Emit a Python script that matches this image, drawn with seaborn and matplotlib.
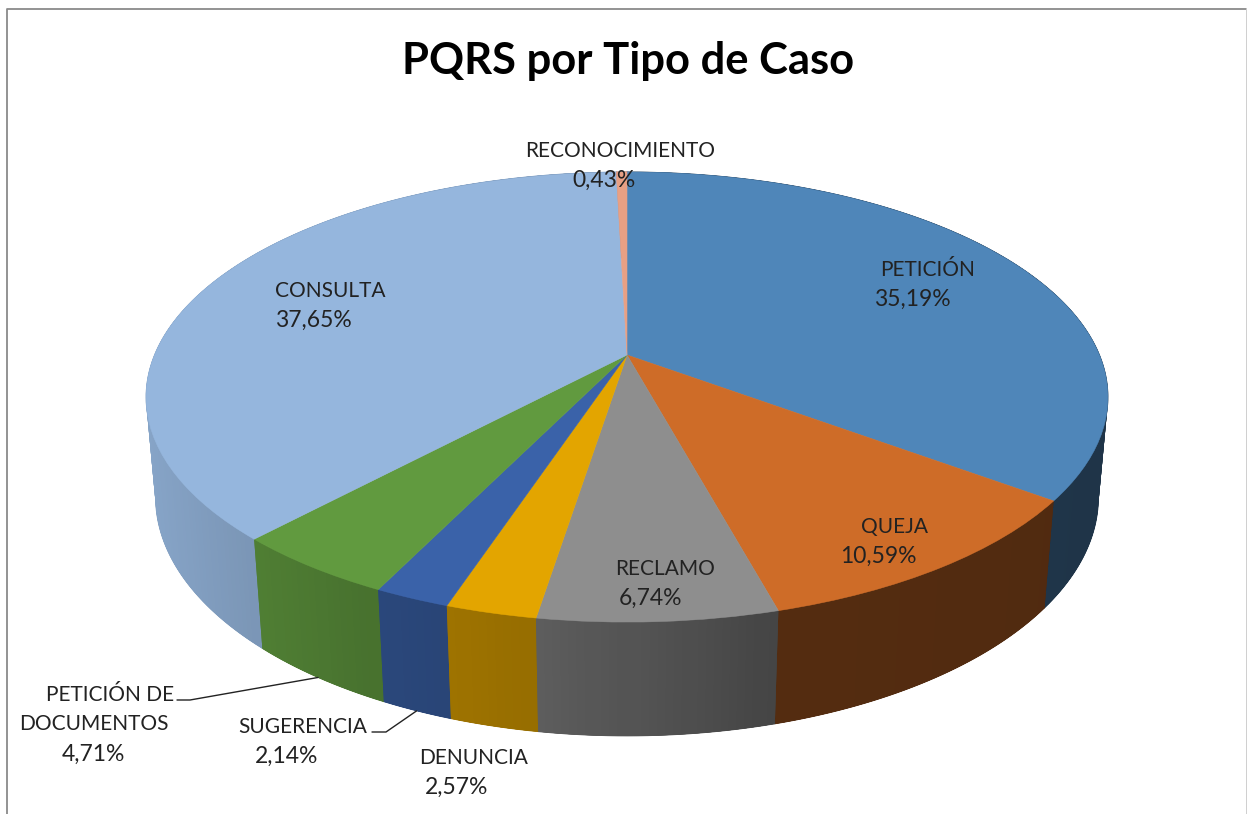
import numpy as np
import matplotlib
matplotlib.use('Agg')
import matplotlib.pyplot as plt
import seaborn as sns
from matplotlib.collections import PolyCollection
from matplotlib.colors import to_rgb
from matplotlib.transforms import Transform

categories = ['PETICIÓN', 'QUEJA', 'RECLAMO', 'DENUNCIA', 'SUGERENCIA',
              'PETICIÓN DE\nDOCUMENTOS', 'CONSULTA', 'RECONOCIMIENTO']
values = [35.19, 10.59, 6.74, 2.57, 2.14, 4.71, 37.65, 0.43]
title = 'PQRS por Tipo de Caso'

colors = ['#4F86B9', '#CE6C28', '#8E8E8E', '#E3A500', '#3A62A9', '#619A3F', '#95B6DD', '#E8A084']

# label anchors, pixel-like: (x of name, x of percent, y of first line)
label_pos = [(928, 912, 270), (894, 878, 527), (665, 650, 569), (474, 457, 758),
             (303, 287, 727), (104, 93, 695), (330, 313, 291), (620, 604, 151)]

CX, CY = 627, 355
A, B, C = 472.5, 217.2, -0.1867
DEPTH, SINK = 100, 0.0194


def project(x, y, low=False):
    # disc seen in perspective, y is up in the pie's coordinates
    v = -np.asarray(y)
    w = 1 + C * v + (SINK if low else 0)
    return CX + A * np.asarray(x) / w, CY + (B * v + (DEPTH if low else 0)) / w


class Perspective(Transform):
    input_dims = output_dims = 2
    is_separable = False
    has_inverse = False

    def transform_non_affine(self, values):
        px, py = project(values[:, 0], values[:, 1])
        return np.column_stack([px, py])


def wall_shade(x):
    return np.interp(x, [150, 260, 385, 540, 772, 782, 1100],
                     [.90, .82, .73, .66, .48, .41, .39])


def wall_quad(t0, t1):
    # quad of the side wall between two angles, as a band of top and lower rim points
    ts = np.radians(np.linspace(t0, t1, max(int(abs(t1 - t0)), 1) + 1))
    top = np.column_stack(project(np.cos(ts), np.sin(ts)))
    low = np.column_stack(project(np.cos(ts), np.sin(ts), True))
    return np.vstack([top, low[::-1]])


sns.set_theme(style='white')
plt.rcParams['font.family'] = ['Lato', 'DejaVu Sans']

fig, ax = plt.subplots(figsize=(12.47, 8.14), dpi=100)
ax.set_position([0, 0, 1, 1])
palette = sns.color_palette(colors)

wedges, _ = ax.pie(values, colors=palette, startangle=90, counterclock=False,
                   wedgeprops={'linewidth': 0.4})
ax.set_aspect('auto')
ax.set_xlim(0, 1247)
ax.set_ylim(814, 0)
ax.axis('off')

persp = Perspective()
bases, base_cols, strips = [], [], []
for wedge, color in zip(wedges, palette):
    wedge.set_transform(persp + ax.transData)
    wedge.set_edgecolor(color)
    wedge.set_zorder(4)
    t1, t2 = wedge.theta1, wedge.theta2
    rgb = np.array(to_rgb(color))
    mid = np.radians((t1 + t2) / 2)
    bases.append(wall_quad(t1, t2))
    base_cols.append(tuple(rgb * wall_shade(project(np.cos(mid), np.sin(mid))[0])))
    edges = np.linspace(t1, t2, max(int((t2 - t1) / 0.8), 1) + 1)
    step = edges[1] - edges[0]
    for e0, e1 in zip(edges[:-1], edges[1:]):
        m = np.radians((e0 + e1) / 2)
        shade = wall_shade(project(np.cos(m), np.sin(m))[0])
        # strips overlap their neighbours so no seams show
        strips.append((-np.sin(m), wall_quad(max(e0 - step, t1), min(e1 + step, t2)), tuple(rgb * shade)))

ax.add_collection(PolyCollection(bases, facecolors=base_cols, edgecolors=base_cols,
                                 linewidths=0.6, zorder=2))
strips.sort(key=lambda s: s[0])
ax.add_collection(PolyCollection([s[1] for s in strips], facecolors=[s[2] for s in strips],
                                 edgecolors='none', linewidths=0, zorder=3))

ink = '#222222'
ax.text(628, 61, title, ha='center', va='center', fontsize=31.3, fontweight='bold', color='black')

for name, val, (xn, xp, yt) in zip(categories, values, label_pos):
    lines = name.split('\n')
    pct = f'{val:.2f}%'.replace('.', ',')
    for i, line in enumerate(lines):
        xline = 94 if line == 'DOCUMENTOS' else xn
        if line == 'PETICIÓN DE':
            xline = 110
        ax.text(xline, yt + i * 29, line, ha='center', va='center', fontsize=15, color=ink, zorder=6)
    ax.text(xp, yt + len(lines) * 29.5, pct, ha='center', va='center', fontsize=16.5, color=ink, zorder=6)

# leader lines run to the middle of the slice's lower rim
for name, (x_end, x_elbow, y_elbow) in {categories[5]: (177, 190, 700), categories[4]: (372, 386, 732)}.items():
    w = wedges[categories.index(name)]
    mid = np.radians((w.theta1 + w.theta2) / 2)
    rx, ry = project(np.cos(mid), np.sin(mid), True)
    ax.plot([x_end, x_elbow, rx], [y_elbow, y_elbow, ry], color='#222222', lw=1, zorder=5)

# chart frame left by the screenshot
ax.plot([6.5, 6.5, 1246], [814, 8.5, 8.5], color='#8a8a8a', lw=1.3, zorder=1, clip_on=False)
ax.plot([1246.5, 1246.5], [8.5, 814], color='#cccccc', lw=1.3, zorder=1)

fig.savefig('out.png', dpi=100)
